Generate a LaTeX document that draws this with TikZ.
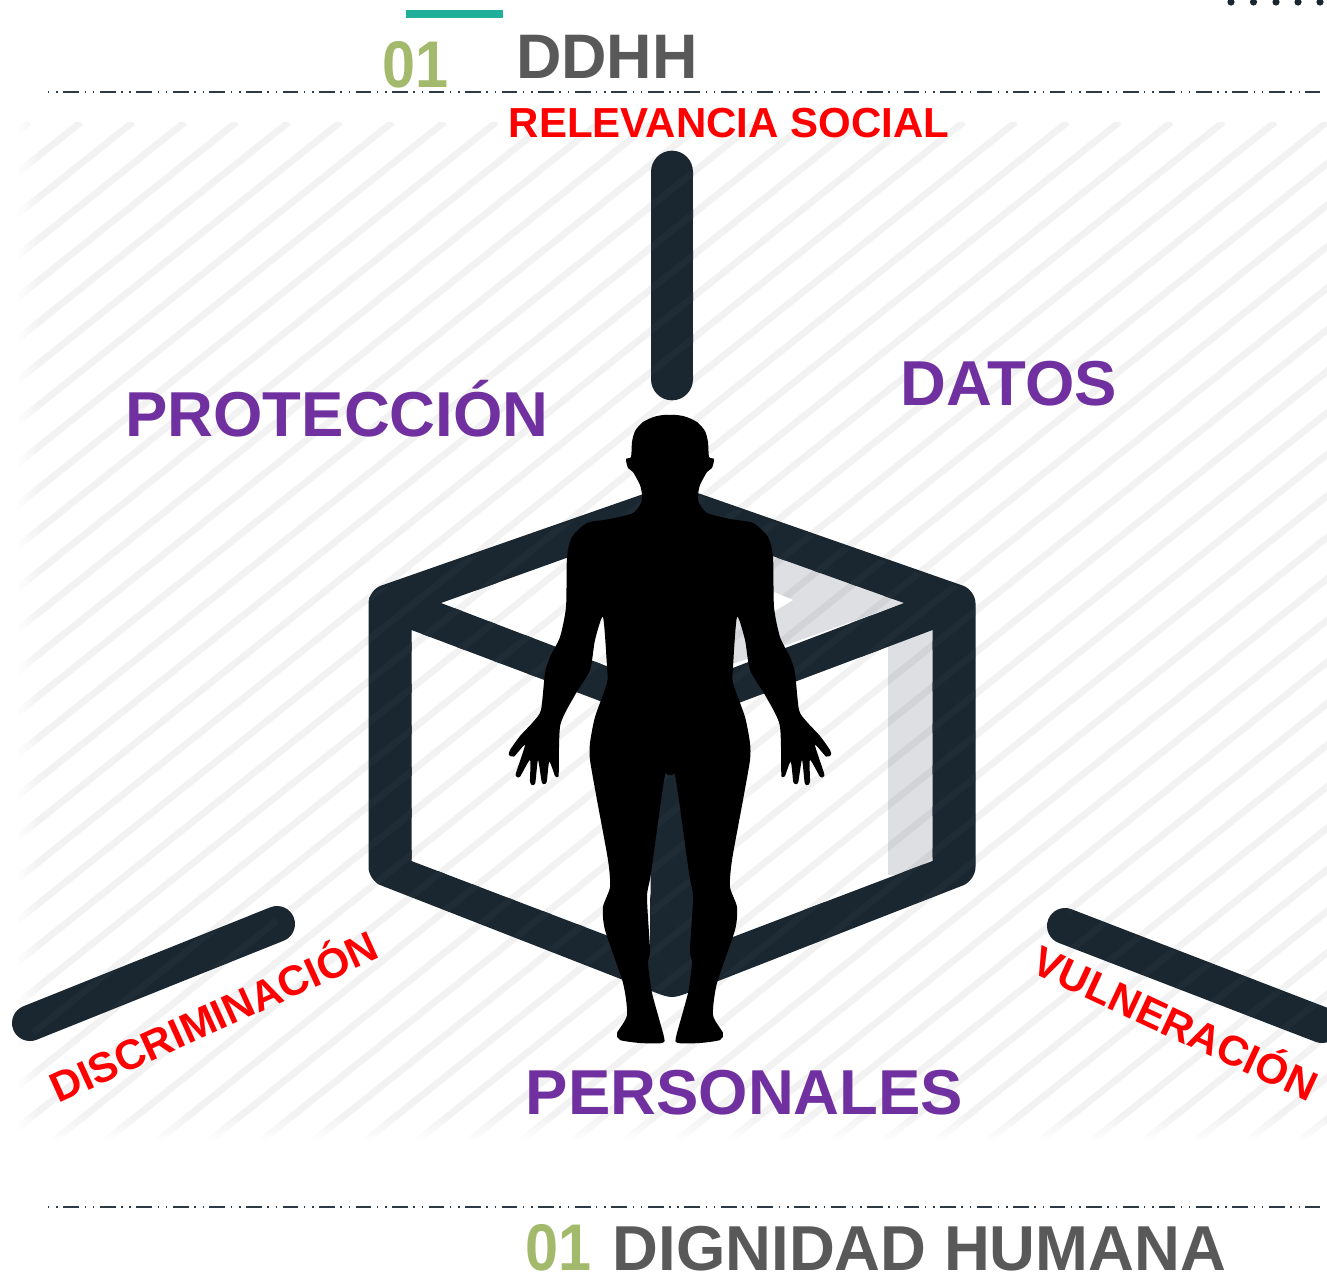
\documentclass[tikz,border=0pt]{standalone}
\usepackage{fontspec}
\setmainfont{Liberation Sans}
\usetikzlibrary{fadings}
\definecolor{cubeink}{HTML}{1B2730}
\definecolor{hatch}{HTML}{F2F2F2}
\definecolor{hatchglow}{HTML}{202C35}
\definecolor{shadegray}{HTML}{DEDFE3}
\definecolor{violetword}{HTML}{7030A0}
\definecolor{olive}{HTML}{A3B96B}
\definecolor{slate}{HTML}{595959}
\definecolor{teal}{HTML}{20B09A}
\definecolor{rule}{HTML}{2B3A44}
\tikzset{
  stickline/.style={draw=cubeink,line cap=round},
  ruleline/.style={draw=rule,line width=1.5pt,dash pattern=on 1.1pt off 5.2pt on 1.1pt off 4.1pt on 11.8pt off 4.1pt},
  word/.style={inner sep=0pt,anchor=base,font=\bfseries,align=center},
  big/.style={word,text=violetword,font=\bfseries\fontsize{47.6}{50}\selectfont},
  alert/.style={word,text=red,font=\bfseries\fontsize{31.5}{34}\selectfont},
  numeral/.style={word,text=olive,font=\bfseries\fontsize{49.5}{52}\selectfont,xscale=.9},
}
\def\hatchlines#1{%
  \begin{scope}
    \clip (18,122) rectangle (1327,1140);
    \foreach \k in {-2,...,50}{
      \draw[#1,line width=5.1pt] ({81+51.92*\k},122) -- ({81+51.92*\k-1.25*1018},1140);
    }
  \end{scope}}
\def\cubefaces{(441,603) -- (672,520) -- (904,603) -- (672,691) -- cycle
  (411.5,630) -- (650.5,720) -- (650.5,952) -- (411.5,861) -- cycle
  (932.5,630) -- (693.5,720) -- (693.5,952) -- (932.5,861) -- cycle}
\def\halfbody{(670,415)(655,416.5)(643,422)(635,431)(632,442)(631,457)(626,459)(628,468)(633,472)(640,485)(642,495)(641,503)(633,513)(610,519)(587,523)(572,537)(567,557)(566,607)(560,637)(550,657)(545,673)(541,710)(533,722)(520,736)(510,750)(509,755)(514,756.5)(525,745)(516,773)(516.7,776.7)(520,776.7)(530,760)(530,782)(532.7,785)(535.3,783)(538,760)(541.7,782)(544,784)(546.7,782)(549.3,761.7)(555,776)(557.3,776.7)(558.7,774)(560.3,725)(575,695)(590,670)(595,640)(603,617)(607,667)(607,683)(595,717)(590,743)(590,760)(597,800)(608,860)(610,887)(603,907)(605,930)(623,983)(627,1015)(617,1033)(620,1040)(640,1043)(662,1043)(664,1037)(652,993)(648,963)(650,950)(647,897)(651,873)(665,775)(672,775)(692,740)(692,500)(690,425)}
\begin{document}
\begin{tikzpicture}[x=0.75pt,y=-0.75pt]
\useasboundingbox (0,0) rectangle (1327,1272);
% hatch panel
\hatchlines{hatch}
\fill[white,path fading=east] (16,120) rectangle (40,1142);
\fill[white,path fading=north] (16,1114) rectangle (1327,1142);
% shaded faces of the cube
\begin{scope}[blend mode=multiply]
\fill[shadegray] (730,540) -- (904,603) -- (730,665) -- cycle;
\fill[shadegray] (888,640) -- (933,622) -- (933,875) -- (888,875) -- cycle;
\end{scope}
\fill[white] (760,586) -- (793,600) -- (760,620) -- cycle;
% cube, outline minus the three faces
\fill[cubeink,even odd rule]
  [rounded corners=10pt] (672,484) -- (975.5,590) -- (975.5,880.5) -- (672,999) -- (368.5,880.5) -- (368.5,590) -- cycle
  [sharp corners] \cubefaces;
% axes
\coordinate (botA) at (672,900);
\coordinate (botB) at (672,975);
\coordinate (upA) at (672,172);
\coordinate (upB) at (672,379);
\coordinate (leftA) at (30,1023);
\coordinate (leftB) at (277,924);
\coordinate (rightA) at (1065,926);
\coordinate (rightB) at (1322,1025);
\draw[stickline,line width=33pt] (botA) -- (botB);
\draw[stickline,line width=32pt] (upA) -- (upB);
\draw[stickline,line width=27pt] (leftA) -- (leftB);
\draw[stickline,line width=27pt] (rightA) -- (rightB);
% stripes show faintly through the dark strokes
\begin{scope}[even odd rule]
\clip (672,486) -- (966,590) -- (975,598) -- (975,872) -- (966,884) -- (672,996) -- (378,884) -- (369,872) -- (369,598) -- (378,590) -- cycle \cubefaces;
\hatchlines{hatchglow}
\end{scope}
\begin{scope}
\clip (651,172) rectangle (693,379)
  (35.3,1038.8) -- (22.7,1007.2) -- (271.7,908.2) -- (284.3,939.8) -- cycle
  (1057.9,941.9) -- (1070.1,910.1) -- (1328.1,1009.1) -- (1315.9,1040.9) -- cycle;
\hatchlines{hatchglow}
\end{scope}
% human silhouette
\fill[black] plot[smooth cycle,tension=.4] coordinates {\halfbody};
\begin{scope}[shift={(1340,0)},xscale=-1]
\fill[black] plot[smooth cycle,tension=.4] coordinates {\halfbody};
\end{scope}
% header
\fill[teal] (406,10) rectangle (503,18);
\node[numeral] (num1) at (415.5,87) {01};
\node[word,text=slate,font=\bfseries\fontsize{47.2}{50}\selectfont] (ddhh) at (607,78) {DDHH};
\foreach \x in {1231,1253.5,1276,1298,1320} \fill[cubeink] (\x,2) circle[radius=3.6];
\draw[ruleline] (48,92) -- (1320,92);
\draw[ruleline] (48,1207) -- (1320,1207);
% words
\node[alert] (rel) at (729,137) {RELEVANCIA SOCIAL};
\node[big] (prot) at (337,436) {PROTECCIÓN};
\node[big] (datos) at (1009,405) {DATOS};
\node[big] (pers) at (744.5,1114) {PERSONALES};
\node[alert,rotate=24.4] (disc) at (220,1030.5) {DISCRIMINACIÓN};
\node[alert,rotate=-25] (vuln) at (1169,1037) {VULNERACIÓN};
\node[numeral] (num2) at (558.5,1270) {01};
\node[word,text=slate,font=\bfseries\fontsize{47.6}{50}\selectfont] (dign) at (919.5,1270) {DIGNIDAD HUMANA};
\end{tikzpicture}
\end{document}
